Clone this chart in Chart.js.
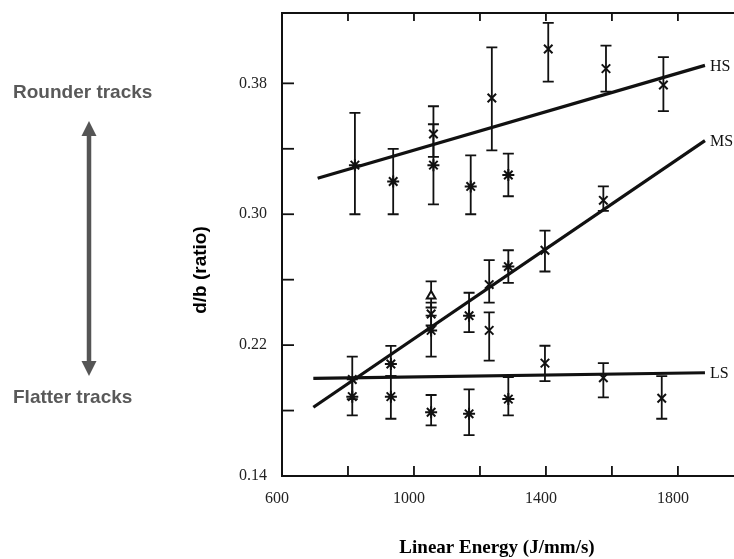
<!DOCTYPE html>
<html>
<head>
<meta charset="utf-8">
<script src="https://cdn.jsdelivr.net/npm/chart.js@4/dist/chart.umd.min.js"></script>
<style>
  html, body { margin: 0; padding: 0; background: #ffffff; overflow: hidden; }
  canvas { display: block; }
</style>
</head>
<body>
<canvas id="c" width="734" height="559"></canvas>
<script>
// ---- Data ----
const xTicks = [600, 800, 1000, 1200, 1400, 1600, 1800];
const xTickLabels = ["600", "", "1000", "", "1400", "", "1800"];
const yTicks = [0.14, 0.18, 0.22, 0.26, 0.30, 0.34, 0.38];
const yTickLabels = ["0.14", "", "0.22", "", "0.30", "", "0.38"];

// HS measurements
const hsX   = [821, 937, 1059, 1059, 1172, 1236, 1286, 1407, 1582, 1756];
const hsY   = [0.330, 0.320, 0.349, 0.330, 0.317, 0.371, 0.324, 0.401, 0.389, 0.379];
const hsLo  = [0.300, 0.300, 0.335, 0.306, 0.300, 0.339, 0.311, 0.381, 0.375, 0.363];
const hsHi  = [0.362, 0.340, 0.366, 0.355, 0.336, 0.402, 0.337, 0.417, 0.403, 0.396];
const hsMk  = ["star","star","crossRot","star","star","crossRot","star","crossRot","crossRot","crossRot"];

// MS measurements
const msX   = [813, 930, 1052, 1052, 1052, 1167, 1228, 1228, 1286, 1397, 1574];
const msY   = [0.199, 0.2085, 0.250, 0.239, 0.229, 0.238, 0.257, 0.229, 0.268, 0.278, 0.3085];
const msLo  = [0.187, 0.201, 0.243, 0.232, 0.213, 0.228, 0.246, 0.2105, 0.258, 0.265, 0.302];
const msHi  = [0.213, 0.2195, 0.259, 0.246, 0.238, 0.252, 0.272, 0.240, 0.278, 0.290, 0.317];
const msMk  = ["crossRot","star","triangle","crossRot","star","star","crossRot","crossRot","star","crossRot","crossRot"];

// LS measurements
const lsX   = [813, 930, 1052, 1167, 1286, 1397, 1574, 1751];
const lsY   = [0.1885, 0.1885, 0.179, 0.178, 0.187, 0.209, 0.200, 0.1875];
const lsLo  = [0.177, 0.175, 0.171, 0.165, 0.177, 0.198, 0.188, 0.175];
const lsHi  = [0.199, 0.201, 0.1895, 0.193, 0.2005, 0.2196, 0.209, 0.201];
const lsMk  = ["star","star","star","star","star","crossRot","crossRot","crossRot"];

// Fitted trend lines (end points)
const hsFitX = [708, 1882];  const hsFitY = [0.322, 0.391];
const msFitX = [695, 1882];  const msFitY = [0.182, 0.345];
const lsFitX = [695, 1882];  const lsFitY = [0.1997, 0.2031];

const seriesNames = ["HS", "MS", "LS"];

// ---- Build datasets ----
const pts = (xs, ys) => xs.map((x, i) => ({ x: x, y: ys[i] }));
const errSets = [
  { xs: hsX, lo: hsLo, hi: hsHi },
  { xs: msX, lo: msLo, hi: msHi },
  { xs: lsX, lo: lsLo, hi: lsHi }
];

function markerSet(xs, ys, mk) {
  return {
    type: 'scatter', data: pts(xs, ys), showLine: false,
    pointStyle: mk, pointRadius: mk.map(m => m === 'triangle' ? 5 : 6), pointBorderWidth: 2,
    borderColor: '#111', backgroundColor: 'rgba(255,255,255,1)'
  };
}
function fitSet(xs, ys) {
  return {
    type: 'line', data: pts(xs, ys), showLine: true,
    borderColor: '#111', borderWidth: 3.2, pointRadius: 0, fill: false, tension: 0
  };
}

const decor = {
  id: 'decor',
  beforeDatasetsDraw(chart) {
    const ctx = chart.ctx, xs = chart.scales.x, ys = chart.scales.y;
    ctx.save();
    ctx.strokeStyle = '#111';
    ctx.lineWidth = 1.8;
    errSets.forEach(s => {
      s.xs.forEach((xv, i) => {
        const px = xs.getPixelForValue(xv);
        const pl = ys.getPixelForValue(s.lo[i]);
        const ph = ys.getPixelForValue(s.hi[i]);
        ctx.beginPath();
        ctx.moveTo(px, pl); ctx.lineTo(px, ph);
        ctx.moveTo(px - 5.5, pl); ctx.lineTo(px + 5.5, pl);
        ctx.moveTo(px - 5.5, ph); ctx.lineTo(px + 5.5, ph);
        ctx.stroke();
      });
    });
    ctx.restore();
  },
  afterDraw(chart) {
    const ctx = chart.ctx, xs = chart.scales.x, ys = chart.scales.y;
    const a = chart.chartArea;
    ctx.save();
    // top spine
    ctx.strokeStyle = '#111';
    ctx.lineWidth = 2;
    ctx.beginPath();
    ctx.moveTo(a.left - 1, a.top); ctx.lineTo(a.right, a.top);
    ctx.stroke();
    // inward ticks
    ctx.lineWidth = 1.8;
    xTicks.forEach(v => {
      const px = xs.getPixelForValue(v);
      if (v === xTicks[0]) return;
      ctx.beginPath();
      ctx.moveTo(px, a.bottom); ctx.lineTo(px, a.bottom - 10);
      ctx.moveTo(px, a.top); ctx.lineTo(px, a.top + 8);
      ctx.stroke();
    });
    yTicks.forEach(v => {
      const py = ys.getPixelForValue(v);
      if (v === yTicks[0]) return;
      ctx.beginPath();
      ctx.moveTo(a.left, py); ctx.lineTo(a.left + 12, py);
      ctx.stroke();
    });
    // series labels at the right end of the fitted lines
    ctx.fillStyle = '#111';
    ctx.font = '16px "Liberation Serif", "DejaVu Serif", serif';
    ctx.textAlign = 'left';
    ctx.textBaseline = 'middle';
    [[hsFitX, hsFitY], [msFitX, msFitY], [lsFitX, lsFitY]].forEach((f, i) => {
      const px = xs.getPixelForValue(f[0][1]) + 5;
      const py = ys.getPixelForValue(f[1][1]) + 1;
      ctx.fillText(seriesNames[i], px, py);
    });
    // x axis title
    ctx.font = 'bold 19px "Liberation Serif", "DejaVu Serif", serif';
    ctx.textAlign = 'center';
    ctx.fillStyle = '#000';
    ctx.fillText('Linear Energy (J/mm/s)', 497, 548);
    // y axis title
    ctx.save();
    ctx.translate(201, 270);
    ctx.rotate(-Math.PI / 2);
    ctx.font = 'bold 19px "Liberation Sans", Arial, sans-serif';
    ctx.fillStyle = '#000';
    ctx.fillText('d/b (ratio)', 0, 0);
    ctx.restore();
    // side annotations
    ctx.fillStyle = '#595959';
    ctx.font = 'bold 19px "Liberation Sans", Arial, sans-serif';
    ctx.textAlign = 'left';
    ctx.fillText('Rounder tracks', 13, 93);
    ctx.fillText('Flatter tracks', 13, 398);
    // double-headed arrow
    ctx.strokeStyle = '#555';
    ctx.fillStyle = '#555';
    ctx.lineWidth = 4.5;
    ctx.beginPath();
    ctx.moveTo(89, 132); ctx.lineTo(89, 364);
    ctx.stroke();
    ctx.beginPath();
    ctx.moveTo(89, 121); ctx.lineTo(81.5, 136); ctx.lineTo(96.5, 136); ctx.closePath();
    ctx.fill();
    ctx.beginPath();
    ctx.moveTo(89, 376); ctx.lineTo(81.5, 361); ctx.lineTo(96.5, 361); ctx.closePath();
    ctx.fill();
    ctx.restore();
  }
};

new Chart(document.getElementById('c'), {
  data: {
    datasets: [
      fitSet(hsFitX, hsFitY),
      fitSet(msFitX, msFitY),
      fitSet(lsFitX, lsFitY),
      markerSet(hsX, hsY, hsMk),
      markerSet(msX, msY, msMk),
      markerSet(lsX, lsY, lsMk)
    ]
  },
  options: {
    responsive: false,
    animation: false,
    layout: { autoPadding: false, padding: { top: 13, left: 0, right: 0, bottom: 0 } },
    plugins: { legend: { display: false }, tooltip: { enabled: false } },
    scales: {
      x: {
        type: 'linear', min: 600, max: 1970,
        afterFit: s => { s.height = 83; s.paddingLeft = 0; s.paddingRight = 0; },
        afterBuildTicks: s => { s.ticks = xTicks.map(v => ({ value: v })); },
        grid: { display: false, drawTicks: false },
        border: { display: true, color: '#111', width: 2 },
        ticks: {
          padding: 13, labelOffset: -5, color: '#222', autoSkip: false, maxRotation: 0,
          font: { family: '"Liberation Serif", "DejaVu Serif", serif', size: 16 },
          callback: (v) => { const i = xTicks.indexOf(v); return i >= 0 ? xTickLabels[i] : ''; }
        }
      },
      y: {
        type: 'linear', min: 0.14, max: 0.423,
        afterFit: s => { s.width = 282; s.paddingTop = 0; s.paddingBottom = 0; },
        afterBuildTicks: s => { s.ticks = yTicks.map(v => ({ value: v })); },
        grid: { display: false, drawTicks: false },
        border: { display: true, color: '#111', width: 2 },
        ticks: {
          padding: 15, color: '#222', autoSkip: false,
          font: { family: '"Liberation Serif", "DejaVu Serif", serif', size: 16 },
          callback: (v) => { const i = yTicks.findIndex(t => Math.abs(t - v) < 1e-9); return i >= 0 ? yTickLabels[i] : ''; }
        }
      }
    }
  },
  plugins: [decor]
});
</script>
</body>
</html>
